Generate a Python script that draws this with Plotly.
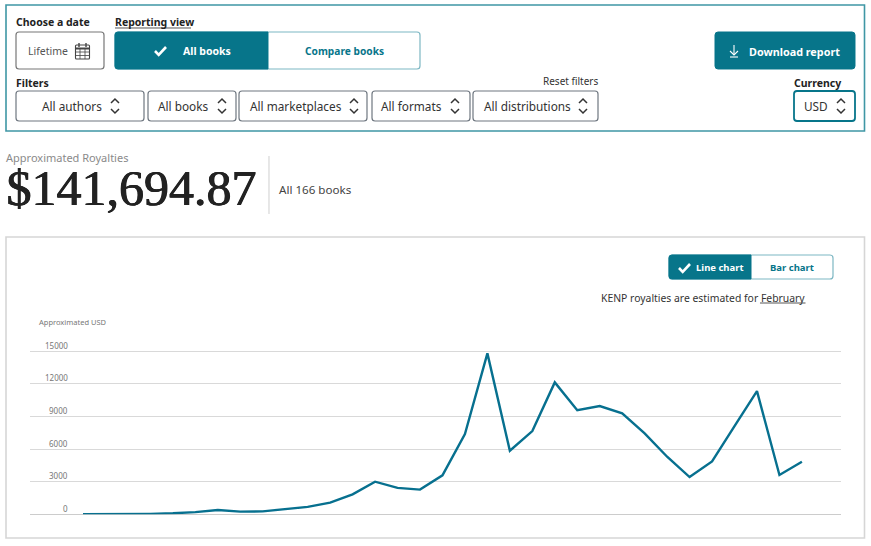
import plotly.graph_objects as go

# ---- data -------------------------------------------------------------
periods = list(range(33))
royalties = [0, 5, 20, 40, 90, 200, 400, 245, 270, 450, 680, 1070, 1840, 3000, 2430, 2270,
             3590, 7390, 14810, 5850, 7660, 12140, 9570, 9960, 9290, 7450, 5300, 3430,
             4870, 8120, 11340, 3620, 4840]
y_ticks = [0, 3000, 6000, 9000, 12000, 15000]
series_name = "Approximated USD"

W, H = 871, 546
TEAL = "#07758a"
TEAL_LIGHT = "#7db7c3"
LINE = "#07708f"
SANS = "Noto Sans"


def X(px):
    return px / W


def Y(py):
    return 1 - py / H


shapes, annotations = [], []


def path_str(points, close=False):
    s = "M " + " L ".join(f"{X(x):.5f},{Y(y):.5f}" for x, y in points)
    return s + (" Z" if close else "")


def rrect(x0, y0, x1, y1, r=3, fill="rgba(0,0,0,0)", line="#777777", lw=1.2, corners=(1, 1, 1, 1)):
    tl, tr, br, bl = [r * c for c in corners]
    d = (
        f"M {X(x0 + tl):.5f},{Y(y0):.5f} L {X(x1 - tr):.5f},{Y(y0):.5f} "
        f"Q {X(x1):.5f},{Y(y0):.5f} {X(x1):.5f},{Y(y0 + tr):.5f} "
        f"L {X(x1):.5f},{Y(y1 - br):.5f} Q {X(x1):.5f},{Y(y1):.5f} {X(x1 - br):.5f},{Y(y1):.5f} "
        f"L {X(x0 + bl):.5f},{Y(y1):.5f} Q {X(x0):.5f},{Y(y1):.5f} {X(x0):.5f},{Y(y1 - bl):.5f} "
        f"L {X(x0):.5f},{Y(y0 + tl):.5f} Q {X(x0):.5f},{Y(y0):.5f} {X(x0 + tl):.5f},{Y(y0):.5f} Z"
    )
    shapes.append(dict(type="path", xref="paper", yref="paper", path=d, fillcolor=fill,
                       line=dict(color=line, width=lw) if lw else dict(width=0), layer="below"))


def poly(points, color, lw=1.2, fill=None, close=False):
    shapes.append(dict(type="path", xref="paper", yref="paper", path=path_str(points, close),
                       fillcolor=fill or "rgba(0,0,0,0)", line=dict(color=color, width=lw), layer="above"))


def text(x, y, s, size=11, color="#333333", anchor="left", bold=False, family=SANS, shadow=None):
    font = dict(size=size, color=color, family=family)
    if shadow:
        font["shadow"] = shadow
    annotations.append(dict(x=X(x), y=Y(y), xref="paper", yref="paper", text=f"<b>{s}</b>" if bold else s,
                            showarrow=False, xanchor=anchor, yanchor="middle", align=anchor,
                            font=font, borderpad=0, borderwidth=0))


def chevrons(cx, cy, color="#333333"):
    poly([(cx - 4, cy - 3), (cx, cy - 7), (cx + 4, cy - 3)], color, 1.5)
    poly([(cx - 4, cy + 3), (cx, cy + 7), (cx + 4, cy + 3)], color, 1.5)


def check(cx, cy, s=1.0, color="white"):
    poly([(cx - 5.5 * s, cy), (cx - 1.8 * s, cy + 3.8 * s), (cx + 5.5 * s, cy - 4 * s)], color, 2.6 * s)


# ---- filter panel -----------------------------------------------------
rrect(6, 5, 864.5, 131, r=0, line="#3f97a5", lw=1.6)

text(16, 22, "Choose a date", 10.5, "#222222", bold=True)
rrect(16, 32, 104, 69)
text(27.5, 51, "Lifetime", 10.5, "#555555")
# calendar icon
rrect(75.5, 45, 89.5, 59, r=1, line="#444444", lw=1.1)
poly([(75.5, 48.5), (89.5, 48.5)], "#444444", 2)
for gx in (80, 85):
    poly([(gx, 48), (gx, 59)], "#444444", 0.8)
for gy in (52, 55.5):
    poly([(75.5, gy), (89.5, gy)], "#444444", 0.8)
for gx in (79, 86):
    poly([(gx, 43), (gx, 47)], "#444444", 1.4)

text(115, 22, "Reporting view", 10.5, "#222222", bold=True)
poly([(115, 28), (191, 28)], "#444444", 0.9)
rrect(115, 32, 420, 69, line=TEAL_LIGHT, lw=1.2)
rrect(115, 32, 268, 69, fill=TEAL, line=TEAL, lw=1, corners=(1, 0, 0, 1))
check(160.5, 51, 1.0)
text(206.5, 50.5, "All books", 10.5, "white", "center", True)
text(344, 50.5, "Compare books", 10.2, TEAL, "center", True)

text(16, 83, "Filters", 10.5, "#222222", bold=True)
text(597.5, 81, "Reset filters", 10, "#333333", "right")

buttons = [
    (16, 144, "All authors", 72, 115),
    (148, 236, "All books", 183.5, 222),
    (239, 367, "All marketplaces", 295.5, 354),
    (372, 470, "All formats", 411.5, 455),
    (473, 598, "All distributions", 527.5, 583),
]
for x0, x1, label, tx, cx in buttons:
    rrect(x0, 91, x1, 121, line="#6f7780")
    text(tx, 106, label, 11.8, "#333333", "center")
    chevrons(cx, 106)

rrect(715, 32, 855, 69, fill=TEAL, line=TEAL, lw=1)
poly([(734, 45), (734, 55)], "white", 1.1)
poly([(730, 51), (734, 55), (738, 51)], "white", 1.1)
poly([(730, 57), (738, 57)], "white", 1.1)
text(794.5, 51.5, "Download report", 10.8, "white", "center", True)

text(817, 83, "Currency", 10.5, "#222222", "center", True)
rrect(794, 91, 855, 121, line=TEAL, lw=1.8)
text(816, 106, "USD", 11.8, "#333333", "center")
chevrons(841, 106)

# ---- headline ---------------------------------------------------------
text(6, 157, "Approximated Royalties", 11, "#8a8a8a")
text(6, 188, "$141,694.87", 50, "#222222", family="Liberation Serif",
     shadow="1px 0 0 #222222, 0.5px 0 0 #222222")
poly([(269, 156), (269, 214)], "#cfcfcf", 1)
text(279, 189, "All 166 books", 11.6, "#444444")

# ---- chart card -------------------------------------------------------
rrect(6, 237, 864.5, 538, r=0, line="#d6d6d6", lw=1.6)
rrect(669, 255, 833, 279, line=TEAL_LIGHT, lw=1.2)
rrect(669, 255, 751, 279, fill=TEAL, line=TEAL, lw=1, corners=(1, 0, 0, 1))
check(684.5, 268, 1.0)
text(719.5, 267.5, "Line chart", 9.5, "white", "center", True)
text(792, 267.5, "Bar chart", 9.5, TEAL, "center", True)
text(805, 298, "KENP royalties are estimated for February", 10.4, "#333333", "right")
poly([(760, 303), (805.5, 303)], "#444444", 0.9)
text(39, 322, series_name, 7.5, "#777777")

# y tick labels sit above their gridlines, right-aligned
for t in y_ticks:
    annotations.append(dict(x=X(69.5), xref="paper", y=t, yref="y", yshift=6, text=str(t), showarrow=False,
                            xanchor="right", yanchor="middle", font=dict(size=8, color="#777777", family=SANS)))

fig = go.Figure(go.Scatter(x=periods, y=royalties, mode="lines", name=series_name,
                           line=dict(color=LINE, width=2.4), cliponaxis=False, hoverinfo="y"))
fig.update_layout(
    width=W, height=H, margin=dict(l=0, r=0, t=0, b=0), autosize=False,
    paper_bgcolor="white", plot_bgcolor="white", showlegend=False,
    shapes=shapes, annotations=annotations,
    xaxis=dict(domain=[X(30), X(841)], range=[-2.36, 33.74], visible=False, fixedrange=True),
    yaxis=dict(domain=[Y(514.3), Y(340.43)], range=[0, 16000], tickmode="array", tickvals=y_ticks,
               showticklabels=False, showgrid=True, gridcolor="#d9d9d9", gridwidth=1.3, zeroline=True,
               zerolinecolor="#cccccc", zerolinewidth=1.3, showline=False, ticks="", fixedrange=True),
)
fig.write_html("out.html", config={"displayModeBar": False},
               post_script="document.body.style.margin='0';document.body.style.overflow='hidden';")
